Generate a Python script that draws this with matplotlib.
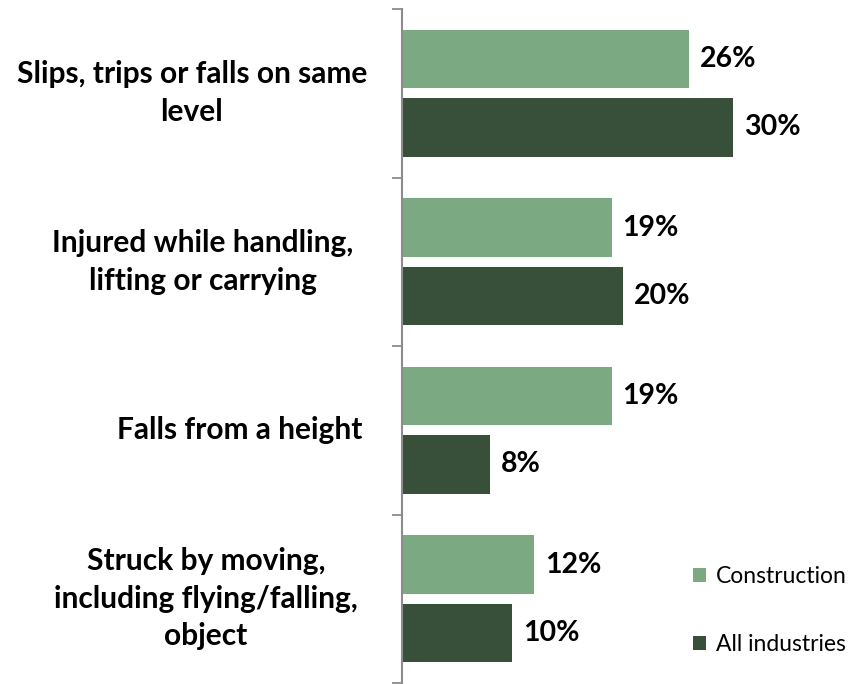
import matplotlib
matplotlib.use("Agg")
import matplotlib.pyplot as plt
import numpy as np

# data (top to bottom)
categories = [
    "Slips, trips or falls on same\nlevel",
    "Injured while handling,\nlifting or carrying",
    "Falls from a height",
    "Struck by moving,\nincluding flying/falling,\nobject",
]
label_x = [192, 203, 240, 206]  # pixel centre of each label block
construction = [26, 19, 19, 12]
all_industries = [30, 20, 8, 10]
series_names = ["Construction", "All industries"]
colors = ["#7BA982", "#38503A"]

W, H = 856, 684
fig = plt.figure(figsize=(W / 100, H / 100), dpi=100)
ax = fig.add_axes([402 / W, 1 / H, (W - 402) / W, 674 / H])

n = len(categories)
y = np.arange(n)
h = 0.345
off = 0.203
b1 = ax.barh(y - off, construction, height=h, color=colors[0], label=series_names[0])
b2 = ax.barh(y + off, all_industries, height=h, color=colors[1], label=series_names[1])

ax.set_xlim(0, (W - 402) / 11.03)
ax.set_ylim(n - 0.5, -0.5)

font = ["Lato", "DejaVu Sans"]
for bars, vals in [(b1, construction), (b2, all_industries)]:
    for rect, v in zip(bars, vals):
        ax.text(v + 1.0, rect.get_y() + rect.get_height() / 2, f"{v}%",
                va="center", ha="left", fontsize=20.5, fontweight="bold",
                family=font)

# category labels, placed in figure coordinates
for i, (lab, lx) in enumerate(zip(categories, label_x)):
    yc = ax.transData.transform((0, i))[1]
    fig.text(lx / W, yc / H, lab, ha="center", va="center",
             fontsize=21.5, fontweight="bold", family=font, linespacing=1.42,
             transform=fig.transFigure)

ax.set_yticks(np.arange(n + 1) - 0.5)
ax.set_yticklabels([])
ax.tick_params(axis="y", length=7, width=1.3, color="#8C8C8C", direction="out")
ax.set_xticks([])
for s in ["top", "right", "bottom"]:
    ax.spines[s].set_visible(False)
ax.spines["left"].set_color("#8C8C8C")
ax.spines["left"].set_linewidth(1.5)

ax.legend(loc="lower right", bbox_to_anchor=(1.0176, 0.0163), frameon=False,
          prop={"family": font, "size": 16.5}, handlelength=0.55, handleheight=0.55,
          handletextpad=0.45, labelspacing=2.05, borderaxespad=0.35)

fig.savefig("out.png", dpi=100)
